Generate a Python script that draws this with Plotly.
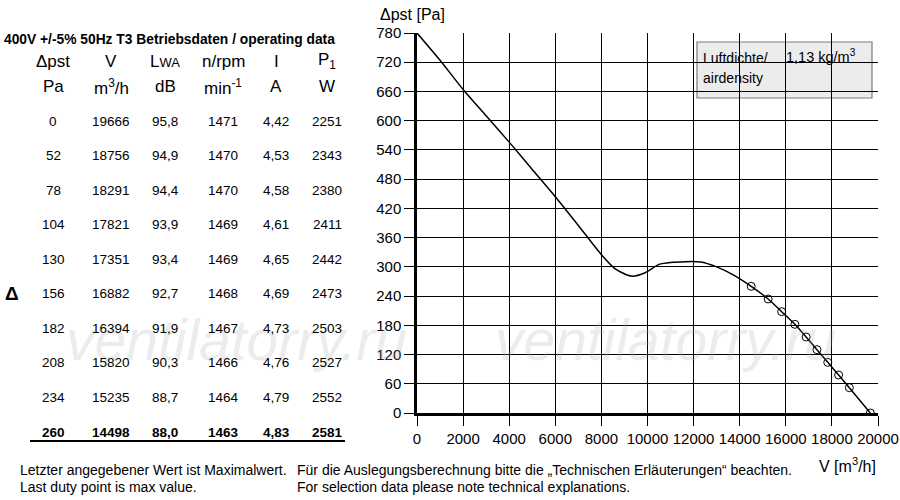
import plotly.graph_objects as go

# operating points (table + markers)
dp_pa = [0, 52, 78, 104, 130, 156, 182, 208, 234, 260]
flow_m3h = [19666, 18756, 18291, 17821, 17351, 16882, 16394, 15820, 15235, 14498]
lwa_db = ["95,8", "94,9", "94,4", "93,9", "93,4", "92,7", "91,9", "90,3", "88,7", "88,0"]
rpm = [1471, 1470, 1470, 1469, 1469, 1468, 1467, 1466, 1464, 1463]
current_a = ["4,42", "4,53", "4,58", "4,61", "4,65", "4,69", "4,73", "4,76", "4,79", "4,83"]
power_w = [2251, 2343, 2380, 2411, 2442, 2473, 2503, 2527, 2552, 2581]

# fan curve (upper part), then the duty points
curve_v = [0, 1000, 2000, 3000, 4000, 5000, 6000, 7000, 8000, 8600, 9300, 9900,
           10500, 11000, 12300, 13000, 13700, 14498, 15235, 15820, 16394, 16882,
           17351, 17821, 18291, 18756, 19666]
curve_p = [780, 724, 664, 610, 556, 500, 444, 385, 325, 296, 281, 288,
           305, 309, 310, 300, 284, 260, 234, 208, 182, 156,
           130, 104, 78, 52, 0]

W, H = 900, 500
FONT = "Liberation Sans, Arial, sans-serif"


def px(x):
    return x / W


def py(y):
    return 1 - y / H


def label(x, y, text, size, xanchor="center"):
    return dict(x=px(x), y=py(y), xref="paper", yref="paper",
                xanchor=xanchor, yanchor="middle",
                text=text, showarrow=False,
                font=dict(size=size, color="black", family=FONT))


fig = go.Figure()

fig.add_trace(go.Scatter(
    x=curve_v, y=curve_p, mode="lines",
    line=dict(color="black", width=1.5, shape="spline", smoothing=0.7),
    hoverinfo="skip", showlegend=False))

fig.add_trace(go.Scatter(
    x=flow_m3h, y=dp_pa, mode="markers",
    marker=dict(symbol="circle-open", size=8, color="black", line=dict(width=1)),
    showlegend=False))

ann = []

# watermark
for cx in (237, 665):
    wm = label(cx, 340, "<i>ventilatorry.ru</i>", 57)
    wm["font"]["color"] = "rgba(170,170,170,0.22)"
    ann.append(wm)

# table title
ann.append(label(2, 40, "<b>400V +/-5% 50Hz T3 Betriebsdaten / operating data</b>", 13.8, "left"))

col_x = [53, 111, 165, 223, 276, 327]
head1 = ["Δpst", "V", "L<span style='font-size:13px'>WA</span>",
         "n/rpm", "I", "P<sub>1</sub>"]
head2 = ["Pa", "m<sup>3</sup>/h", "dB", "min<sup>-1</sup>", "A", "W"]
for cx, h1, h2 in zip(col_x, head1, head2):
    ann.append(label(cx, 61, h1, 17))
    ann.append(label(cx, 87, h2, 17))

n = len(dp_pa)
for i in range(n):
    yy = 121 + i * (432 - 121) / (n - 1)
    row = [str(dp_pa[i]), str(flow_m3h[i]), lwa_db[i], str(rpm[i]), current_a[i], str(power_w[i])]
    for cx, t in zip(col_x, row):
        if i == n - 1:
            t = "<b>" + t + "</b>"
        ann.append(label(cx, yy, t, 13.5))

ann.append(label(12, 293, "<b>Δ</b>", 19))

# axis titles
ann.append(label(378, 14, "Δpst [Pa]", 16, "left"))
ann.append(label(878, 465, "V [m<sup>3</sup>/h]", 16, "right"))

# air density box
ann.append(label(701, 58, "Luftdichte/", 14, "left"))
ann.append(label(784, 56, "1,13 kg/m<sup>3</sup>", 14.5, "left"))
ann.append(label(701, 78, "airdensity", 14, "left"))

# footer notes
notes = [(18, 470, "Letzter angegebener Wert ist Maximalwert."),
         (18, 487, "Last duty point is max value."),
         (295, 470, "Für die Auslegungsberechnung bitte die „Technischen Erläuterungen“ beachten."),
         (295, 487, "For selection data please note technical explanations.")]
for x0, y0, t in notes:
    ann.append(label(x0, y0, t, 14, "left"))

shapes = [
    dict(type="rect", xref="paper", yref="paper", x0=px(697), x1=px(872), y0=py(98), y1=py(42),
         fillcolor="#ececec", line=dict(color="#7a7a7a", width=1.2), layer="below"),
    dict(type="line", xref="paper", yref="paper", x0=px(30), x1=px(345), y0=py(441), y1=py(441),
         line=dict(color="black", width=2)),
]

fig.update_layout(
    width=W, height=H,
    margin=dict(l=0, r=0, t=0, b=0, autoexpand=False),
    paper_bgcolor="white", plot_bgcolor="white",
    font=dict(family=FONT, color="black"),
    annotations=ann, shapes=shapes,
    xaxis=dict(domain=[px(417), px(878)], range=[0, 20000], dtick=2000, tickformat="d",
               automargin=False,
               showgrid=True, gridcolor="black", gridwidth=1,
               showline=True, linecolor="black", linewidth=2.5, zeroline=False,
               ticks="outside", ticklen=10, tickcolor="black", tickwidth=1,
               tickfont=dict(size=15, family=FONT)),
    yaxis=dict(domain=[py(413), py(33)], range=[0, 780], dtick=60, tickformat="d",
               automargin=False,
               showgrid=True, gridcolor="black", gridwidth=1,
               showline=True, linecolor="black", linewidth=2.5, zeroline=False,
               ticks="outside", ticklen=10, tickcolor="black", tickwidth=1,
               tickfont=dict(size=15, family=FONT)),
)

# drop the browser's default 8px page margin so the figure sits at the window corner
fig.write_html("out.html", config={"displayModeBar": False},
               post_script="document.body.style.margin='0';")
